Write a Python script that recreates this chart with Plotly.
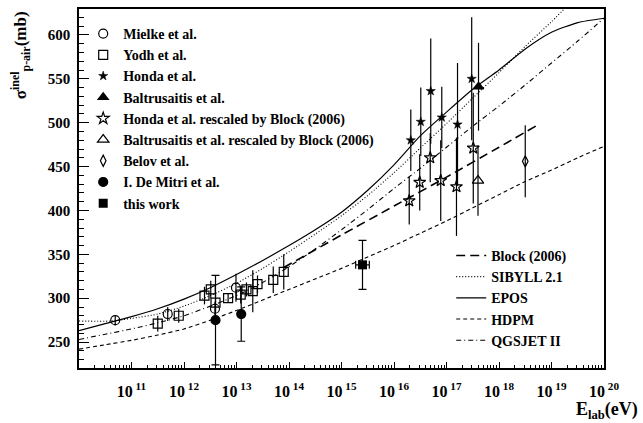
import plotly.graph_objects as go

# ---------------- data (log10 of E_lab/eV, sigma in mb) ----------------
mielke_logE = [10.69, 11.69, 12.59, 12.99]
mielke_sig = [275, 282, 288, 312]
mielke_err = [6, 8, 8, 16]

yodh_logE = [11.50, 11.90, 12.39, 12.51, 12.60, 12.84, 13.08, 13.19, 13.31, 13.40, 13.70, 13.90]
yodh_sig = [271, 280, 303, 310, 295, 300, 304, 310, 308, 316, 321, 330]
yodh_err = [9, 8, 10, 10, 10, 5, 10, 8, 24, 10, 15, 20]

honda_logE = [16.32, 16.51, 16.70, 16.91, 17.21, 17.48]
honda_sig = [480, 501, 536, 506, 498, 550]
honda_err = [35, 39, 60, 35, 70, 70]

baltr_logE = [17.61]
baltr_sig = [541]
baltr_err = [50]

honda_r_logE = [16.29, 16.49, 16.69, 16.89, 17.19, 17.51]
honda_r_sig = [411, 432, 460, 434, 427, 471]
honda_r_err = [27, 32, 28, 46, 56, 63]

baltr_r_logE = [17.60]
baltr_r_sig = [434]
baltr_r_err = [40]

belov_logE = [18.50]
belov_sig = [456]
belov_err = [41]

demitri_logE = [12.60, 13.09]
demitri_sig = [275, 282]
demitri_err = [51, 31]

this_logE = [15.40]
this_sig = [338]
this_err = [28]
this_dlogE = [0.13]

# model curves
block_logE = [13.9, 15.0, 16.0, 17.0, 18.0, 18.7]
block_sig = [335, 372, 405, 438, 472, 496]

sibyll_logE = [10.0, 10.6, 11.0, 11.5, 12.0, 12.5, 13.0, 13.5, 14.0, 14.5, 15.0, 15.5, 16.0, 16.5, 17.0, 17.5, 18.0, 18.5, 19.0, 19.5]
sibyll_sig = [274, 274, 277, 282, 291, 303, 317, 334, 353, 373, 394, 417, 443, 471, 499, 528, 557, 587, 615, 645]

epos_logE = [10.0, 10.5, 11.0, 11.5, 12.0, 12.5, 13.0, 13.5, 14.0, 14.5, 15.0, 15.5, 16.0, 16.5, 17.0, 17.5, 18.0, 18.5, 19.0, 19.5, 20.0]
epos_sig = [263, 271, 279, 288, 299, 312, 327, 343, 360, 378, 398, 423, 452, 485, 512, 538, 560, 584, 603, 614, 619]

hdpm_logE = [10.0, 10.5, 11.0, 11.5, 12.0, 12.5, 13.0, 13.5, 14.0, 14.5, 15.0, 15.5, 16.0, 16.5, 17.0, 17.5, 18.0, 18.5, 19.0, 19.5, 20.0]
hdpm_sig = [242, 247, 252, 258, 265, 275, 286, 298, 310, 322, 334, 347, 360, 374, 388, 403, 418, 433, 446, 460, 473]

qgs_logE = [10.0, 10.5, 11.0, 11.5, 12.0, 12.5, 13.0, 13.5, 14.0, 14.5, 15.0, 15.5, 16.0, 16.5, 17.0, 17.5, 18.0, 18.5, 19.0, 19.5, 20.0]
qgs_sig = [253, 259, 265, 272, 280, 291, 303, 318, 336, 356, 378, 401, 425, 448, 472, 496, 519, 543, 568, 593, 619]

xtick_exp = [11, 12, 13, 14, 15, 16, 17, 18, 19, 20]


def E(logs):
    return [10.0 ** v for v in logs]


FONT = "Liberation Serif"
fig = go.Figure()


def pts(name, logE, sig, err, symbol, size, capw=0, legend="legend", lw=1.2):
    fig.add_trace(go.Scatter(
        x=E(logE), y=sig, mode="markers", name="<b>%s</b>" % name, legend=legend,
        marker=dict(symbol=symbol, size=size, color="black",
                    line=dict(color="black", width=lw)),
        error_y=dict(type="data", array=err, visible=True, color="black",
                     thickness=1.2, width=capw),
    ))


def curve(name, logE, sig, dash, width=1.1):
    fig.add_trace(go.Scatter(
        x=E(logE), y=sig, mode="lines", name="<b>%s</b>" % name, legend="legend2",
        line=dict(color="black", width=width, dash=dash, shape="spline", smoothing=0.6),
    ))


# model lines (drawn first, below the points)
curve("Block (2006)", block_logE, block_sig, "9px,5px", 1.6)
curve("SIBYLL 2.1", sibyll_logE, sibyll_sig, "1px,2px", 1.1)
curve("EPOS", epos_logE, epos_sig, "solid", 1.2)
curve("HDPM", hdpm_logE, hdpm_sig, "4px,3px", 1.1)
curve("QGSJET II", qgs_logE, qgs_sig, "5px,3px,1px,3px", 1.1)

pts("Mielke et al.", mielke_logE, mielke_sig, mielke_err, "circle-open", 9)
pts("Yodh et al.", yodh_logE, yodh_sig, yodh_err, "square-open", 9)
pts("Honda et al.", honda_logE, honda_sig, honda_err, "star", 7, lw=0.5)
pts("Baltrusaitis et al.", baltr_logE, baltr_sig, baltr_err, "triangle-up", 9)
pts("Honda et al. rescaled by Block (2006)", honda_r_logE, honda_r_sig, honda_r_err, "star-open", 9)
pts("Baltrusaitis et al. rescaled by Block (2006)", baltr_r_logE, baltr_r_sig, baltr_r_err, "triangle-up-open", 10)
pts("Belov et al.", belov_logE, belov_sig, belov_err, "diamond-tall-open", 8)
pts("I. De Mitri et al.", demitri_logE, demitri_sig, demitri_err, "circle", 9, capw=4)

# this work with horizontal error bar (log-energy resolution)
tx = E(this_logE)
ex_plus = [10.0 ** (l + d) - 10.0 ** l for l, d in zip(this_logE, this_dlogE)]
ex_minus = [10.0 ** l - 10.0 ** (l - d) for l, d in zip(this_logE, this_dlogE)]
fig.add_trace(go.Scatter(
    x=tx, y=this_sig, mode="markers", name="<b>this work</b>", legend="legend",
    marker=dict(symbol="square", size=9, color="black"),
    error_y=dict(type="data", array=this_err, visible=True, color="black", thickness=1.2, width=4),
    error_x=dict(type="data", array=ex_plus, arrayminus=ex_minus, visible=True,
                 color="black", thickness=1.2, width=4),
))

fig.update_layout(
    width=643, height=423,
    margin=dict(l=79, r=39, t=7, b=55),
    paper_bgcolor="white", plot_bgcolor="white",
    font=dict(family=FONT, color="black", size=14),
    showlegend=True,
    legend=dict(x=0.008, y=0.975, xanchor="left", yanchor="top",
                bgcolor="rgba(0,0,0,0)", font=dict(family=FONT, size=14, color="black"),
                tracegroupgap=0),
    legend2=dict(x=0.709, y=0.357, xanchor="left", yanchor="top",
                 bgcolor="rgba(0,0,0,0)", font=dict(family=FONT, size=14, color="black")),
)

fig.update_xaxes(
    type="log", range=[10, 20],
    tickmode="array", tickvals=[10.0 ** e for e in xtick_exp],
    ticktext=["<b>10<sup> %d</sup></b>" % e for e in xtick_exp],
    ticks="inside", ticklen=6, tickwidth=1, tickcolor="black",
    minor=dict(ticks="inside", ticklen=3, tickcolor="black", tickwidth=1, dtick="D1", showgrid=False),
    showline=True, linecolor="black", linewidth=1.5, mirror=True,
    showgrid=False, zeroline=False,
    tickfont=dict(family=FONT, size=16, color="black"),
    ticklabelstandoff=8,
)
fig.update_yaxes(
    range=[220.5, 629.5],
    tickmode="linear", tick0=0, dtick=50,
    ticks="inside", ticklen=10, tickwidth=1, tickcolor="black",
    minor=dict(ticks="inside", ticklen=5, tickcolor="black", tickwidth=1, dtick=10, showgrid=False),
    showline=True, linecolor="black", linewidth=1.5, mirror=True,
    showgrid=False, zeroline=False,
    tickfont=dict(family=FONT, size=15, color="black", weight="bold"),
    ticklabelstandoff=4,
)

fig.add_annotation(
    text="<b>σ<sup>inel</sup><sub>p-air</sub>(mb)</b>", textangle=-90,
    xref="paper", yref="paper", x=-0.112, y=1.0, xanchor="center", yanchor="top",
    showarrow=False, font=dict(family=FONT, size=17, color="black"),
)
fig.add_annotation(
    text="<b>E<sub>lab</sub>(eV)</b>",
    xref="paper", yref="paper", x=1.069, y=-0.118, xanchor="right", yanchor="middle",
    showarrow=False, font=dict(family=FONT, size=18, color="black"),
)

fig.write_html("out.html")
